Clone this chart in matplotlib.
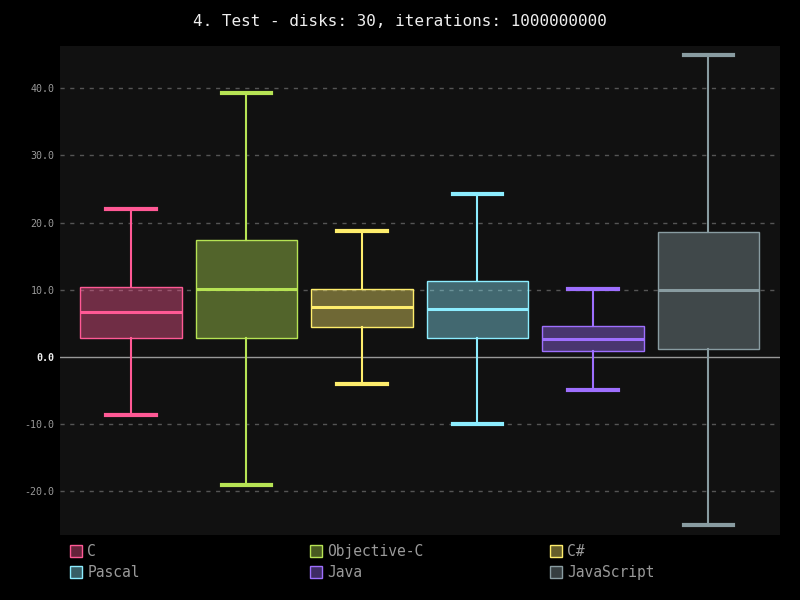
import matplotlib.pyplot as plt
from matplotlib.colors import to_rgba
from matplotlib.patches import Patch

# box stats
langs = ['C', 'Objective-C', 'C#', 'Pascal', 'Java', 'JavaScript']
colors = ['#ff5995', '#b6e354', '#feed6c', '#8cedff', '#9e6ffe', '#899ca1']
whislo = [-8.6, -19.0, -4.0, -10.0, -4.9, -25.0]
q1 = [2.8, 2.8, 4.5, 2.8, 0.9, 1.2]
med = [6.7, 10.1, 7.4, 7.1, 2.7, 10.0]
q3 = [10.4, 17.4, 10.1, 11.3, 4.6, 18.6]
whishi = [22.0, 39.3, 18.75, 24.3, 10.1, 44.9]
yticks = [-20, -10, 0, 10, 20, 30, 40]

mono = 'DejaVu Sans Mono'
fig = plt.figure(figsize=(8, 6), dpi=100, facecolor='#000000')
ax = fig.add_axes([60/800, 65/600, 720/800, 489/600])
ax.set_facecolor('#111111')

stats = []
for i in range(len(langs)):
    stats.append(dict(label=langs[i], whislo=whislo[i], q1=q1[i], med=med[i],
                      q3=q3[i], whishi=whishi[i], fliers=[]))

for i, s in enumerate(stats):
    c = colors[i]
    ax.bxp([s], positions=[i], widths=0.88, patch_artist=True, showfliers=False,
           boxprops=dict(facecolor=to_rgba(c, 0.4), edgecolor=c, linewidth=1),
           medianprops=dict(color=c, linewidth=2.2),
           whiskerprops=dict(color=c, linewidth=1.5),
           capprops=dict(color=c, linewidth=3),
           capwidths=0.43, zorder=3)

ax.set_xlim(-0.615, 5.62)
ax.set_ylim(-26.5, 46.3)
ax.set_xticks([])
ax.set_yticks(yticks)
ax.set_yticklabels(['%.1f' % v for v in yticks], family=mono, fontsize=7.2, color='#999999')
for lbl, v in zip(ax.get_yticklabels(), yticks):
    if v == 0:
        lbl.set_color('#eeeeee')
        lbl.set_fontweight('bold')
ax.tick_params(axis='y', length=0, pad=4)
for v in yticks:
    if v == 0:
        ax.axhline(0, color='#999999', lw=1, zorder=2)
    else:
        ax.axhline(v, color='#555555', lw=1, ls=(0, (3, 4)), zorder=1)
for sp in ax.spines.values():
    sp.set_visible(False)

fig.suptitle('4. Test - disks: 30, iterations: 1000000000', family=mono,
             fontsize=11.5, color='#eeeeee', y=1 - 21/600, va='center')

# legend: three columns, two rows
for col in range(3):
    idx = [col, col + 3]
    handles = [Patch(facecolor=to_rgba(colors[i], 0.4), edgecolor=colors[i], lw=1) for i in idx]
    leg = fig.legend(handles, [langs[i] for i in idx], loc='upper left',
                     bbox_to_anchor=((70 + 240*col)/800, 1 - 544/600),
                     frameon=False, borderaxespad=0, borderpad=0,
                     handlelength=0.85, handleheight=0.85, handletextpad=0.35,
                     labelspacing=0.4, prop=dict(family=mono, size=10.5))
    for t in leg.get_texts():
        t.set_color('#999999')

fig.savefig('out.png', facecolor='#000000')
